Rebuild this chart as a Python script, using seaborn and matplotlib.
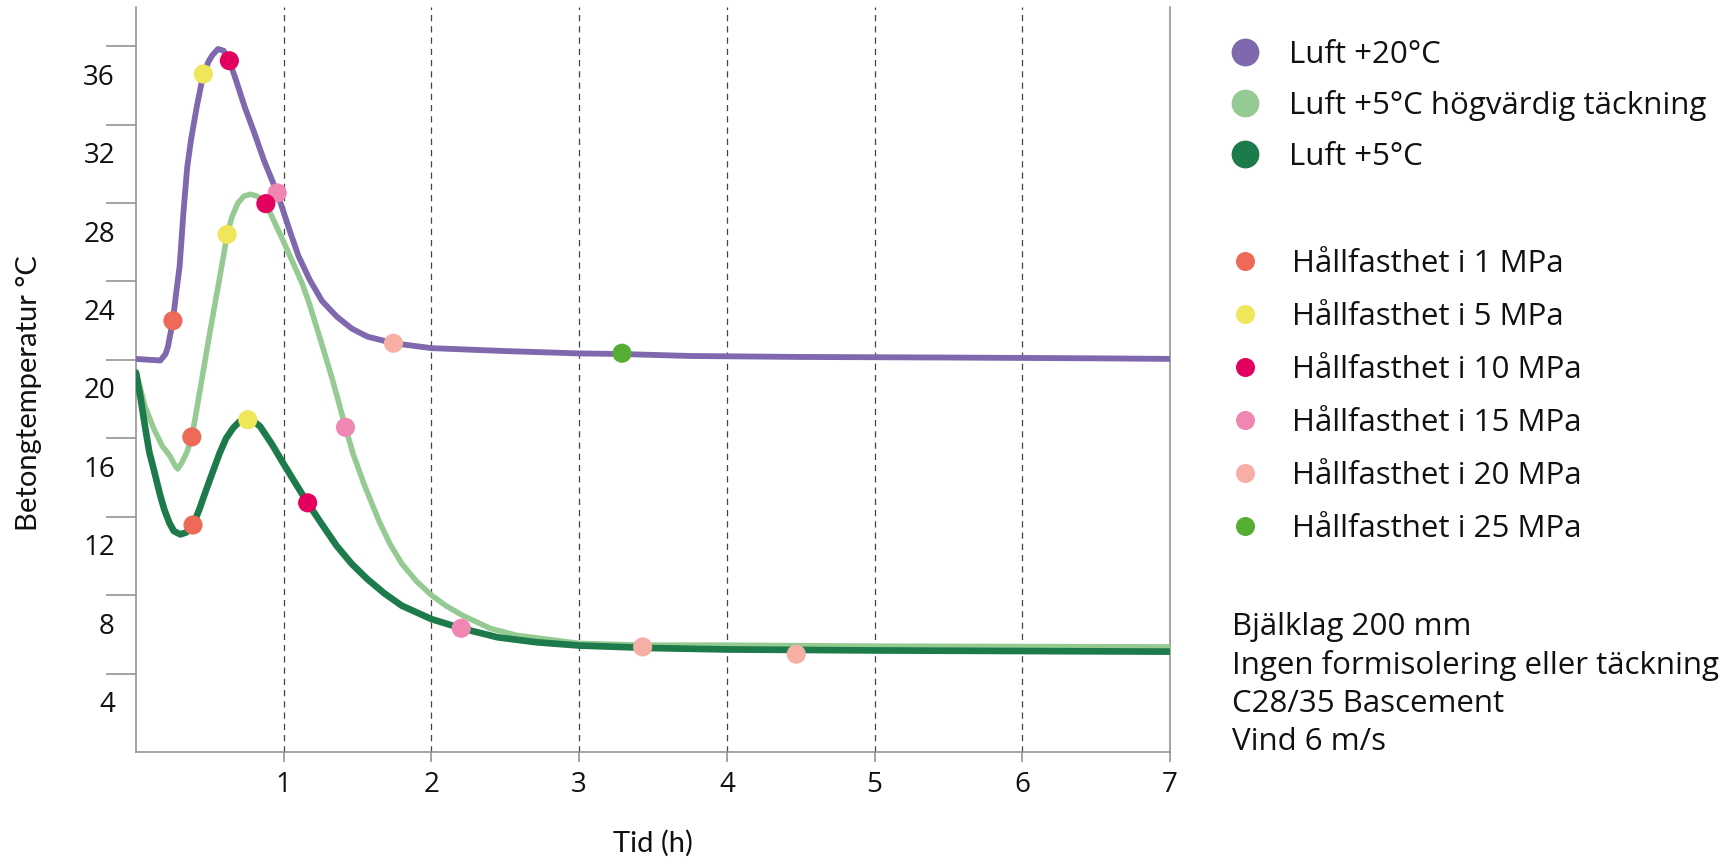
import numpy as np
import pandas as pd
import matplotlib
matplotlib.use("Agg")
import matplotlib.pyplot as plt
import matplotlib.transforms as mtransforms
from matplotlib.lines import Line2D
import seaborn as sns

# Temperature curves (time in hours, concrete temperature in °C)
t_luft20 = [0.00, 0.10, 0.165, 0.20, 0.217, 0.25, 0.27, 0.295, 0.322, 0.347, 0.372, 0.411,
            0.435, 0.456, 0.49, 0.515, 0.555, 0.593, 0.632, 0.68, 0.736, 0.80, 0.866, 0.956,
            1.047, 1.10, 1.177, 1.26, 1.359, 1.46, 1.566, 1.743, 2.0, 2.5, 3.0, 3.29,
            3.75, 4.5, 5.5, 6.5, 7.0]
temp_luft20 = [20.05, 20.0, 19.97, 20.3, 20.7, 22.0, 23.3, 24.75, 27.6, 29.84, 31.2, 32.9,
               33.8, 34.58, 35.2, 35.52, 35.86, 35.77, 35.26, 34.2, 32.9, 31.6, 30.18, 28.52,
               26.45, 25.3, 24.07, 23.0, 22.21, 21.6, 21.19, 20.85, 20.6, 20.45, 20.33, 20.3,
               20.2, 20.15, 20.12, 20.08, 20.05]

t_luft5_tack = [0.0, 0.061, 0.12, 0.178, 0.23, 0.265, 0.282, 0.31, 0.345, 0.378, 0.40,
                0.45, 0.50, 0.55, 0.59, 0.617, 0.65, 0.69, 0.73, 0.775, 0.82, 0.879,
                0.995, 1.06, 1.125, 1.172, 1.25, 1.322, 1.37, 1.418, 1.47, 1.547, 1.644,
                1.72, 1.8, 1.9, 2.0, 2.1, 2.215, 2.4, 2.578, 3.0, 3.43, 4.0, 5.0, 6.0, 7.0]
temp_luft5_tack = [19.4, 17.63, 16.5, 15.6, 15.1, 14.6, 14.44, 14.75, 15.3, 16.07, 17.0,
                   19.2, 21.4, 23.5, 25.2, 26.4, 27.3, 28.0, 28.35, 28.45, 28.35, 27.97,
                   26.1, 25.0, 23.9, 22.9, 21.0, 19.2, 17.9, 16.56, 15.2, 13.6, 11.8,
                   10.6, 9.6, 8.7, 8.0, 7.45, 6.95, 6.3, 5.95, 5.54, 5.45, 5.45, 5.4, 5.38, 5.36]

t_luft5 = [0.0, 0.03, 0.061, 0.09, 0.126, 0.16, 0.191, 0.225, 0.256, 0.30, 0.34, 0.386,
           0.43, 0.476, 0.52, 0.567, 0.61, 0.658, 0.70, 0.757, 0.80, 0.84, 0.92, 0.995,
           1.08, 1.162, 1.26, 1.359, 1.46, 1.566, 1.68, 1.8, 2.0, 2.202, 2.449, 2.708,
           3.0, 3.5, 4.0, 5.0, 6.0, 7.0]
temp_luft5 = [19.35, 18.1, 16.61, 15.3, 14.24, 13.2, 12.38, 11.7, 11.27, 11.1, 11.2, 11.58,
              12.4, 13.39, 14.3, 15.26, 16.0, 16.53, 16.85, 16.95, 16.85, 16.61, 15.7, 14.75,
              13.7, 12.71, 11.6, 10.51, 9.6, 8.82, 8.1, 7.46, 6.78, 6.31, 5.85, 5.6,
              5.43, 5.3, 5.23, 5.18, 5.15, 5.12]

# Strength milestones reached along the curves
strength_labels = ["Hållfasthet i 1 MPa", "Hållfasthet i 5 MPa", "Hållfasthet i 10 MPa",
                   "Hållfasthet i 15 MPa", "Hållfasthet i 20 MPa", "Hållfasthet i 25 MPa"]
dot_time = [0.25, 0.456, 0.632, 0.956, 1.743, 3.29,
            0.378, 0.617, 0.879, 1.418, 3.43,
            0.386, 0.757, 1.162, 2.202, 4.47]
dot_temp = [22.0, 34.58, 35.26, 28.52, 20.85, 20.34,
            16.07, 26.4, 27.97, 16.56, 5.36,
            11.58, 16.95, 12.71, 6.31, 4.99]
dot_strength = [0, 1, 2, 3, 4, 5,
                0, 1, 2, 3, 4,
                0, 1, 2, 3, 4]

series_labels = ["Luft +20°C", "Luft +5°C högvärdig täckning", "Luft +5°C"]
series_colors = ["#7F68AD", "#95CB93", "#1D7A4B"]
strength_colors = ["#EE6A58", "#F0E65A", "#E4005F", "#EF87B2", "#F6AEA5", "#55AD34"]

y_ticks = [4, 8, 12, 16, 20, 24, 28, 32, 36]
x_ticks = [1, 2, 3, 4, 5, 6, 7]

notes = ["Bjälklag 200 mm", "Ingen formisolering eller täckning", "C28/35 Bascement", "Vind 6 m/s"]

sns.set_theme(style="white")
plt.rcParams["font.family"] = ["Lato", "DejaVu Sans"]
body_font = ["Open Sans", "DejaVu Sans"]
axis_grey = "#8C8C8C"
ink = "#111111"

fig = plt.figure(figsize=(17.32, 8.58), dpi=100)
ax = fig.add_axes([136 / 1732, 1 - 752 / 858, (1170 - 136) / 1732, (752 - 7) / 858])

curves = [(t_luft20, temp_luft20, 4.2), (t_luft5_tack, temp_luft5_tack, 4.0), (t_luft5, temp_luft5, 4.8)]
for (tx, ty, lw), col in zip(curves, series_colors):
    sns.lineplot(x=tx, y=ty, ax=ax, color=col, linewidth=lw, sort=False, zorder=3)

dots = pd.DataFrame({"tid": dot_time, "temp": dot_temp,
                     "hall": [strength_labels[i] for i in dot_strength]})
sns.scatterplot(data=dots, x="tid", y="temp", hue="hall", ax=ax,
                palette=dict(zip(strength_labels, strength_colors)),
                s=190, linewidth=0, legend=False, zorder=4)

ax.set_xlim(0, 7)
ax.set_ylim(0, 38)
ax.set_xticks(x_ticks)
ax.set_xticklabels([str(v) for v in x_ticks], family=body_font)
ax.set_yticks(y_ticks)
ax.set_yticklabels([str(v) for v in y_ticks], family=body_font)

for side in ["left", "bottom", "right"]:
    ax.spines[side].set_visible(True)
    ax.spines[side].set_color(axis_grey)
    ax.spines[side].set_linewidth(1.1)
ax.spines["top"].set_visible(False)

ax.tick_params(axis="y", direction="out", length=21.6, width=1.1, color=axis_grey,
               labelsize=20, labelcolor=ink, pad=0, left=True)
ax.tick_params(axis="x", direction="out", length=7, width=1.1, color=axis_grey,
               labelsize=20, labelcolor=ink, pad=7, bottom=True)

# y tick labels sit a little below their tick marks
shift = mtransforms.ScaledTranslation(0.09, -0.28, fig.dpi_scale_trans)
for lab in ax.get_yticklabels():
    lab.set_transform(lab.get_transform() + shift)

ax.grid(axis="x", linestyle=(0, (5, 4)), color="#444444", linewidth=0.9)
ax.grid(axis="y", visible=False)
ax.set_axisbelow(True)
ax.xaxis.get_gridlines()[-1].set_visible(False)

ax.set_ylabel("Betongtemperatur °C", fontsize=21, color=ink)
ax.yaxis.set_label_coords(-0.091, 0.482)
ax.set_xlabel("Tid (h)", fontsize=21, color=ink)
ax.xaxis.set_label_coords(0.5, -0.105)

series_handles = [Line2D([], [], marker="o", linestyle="none", markersize=20,
                         markerfacecolor=c, markeredgewidth=0) for c in series_colors]
leg1 = fig.legend(series_handles, series_labels, loc="upper left",
                  bbox_to_anchor=(1212 / 1732, 1 - 24 / 858), frameon=False,
                  prop={"family": body_font, "size": 22.5}, labelspacing=0.66,
                  handletextpad=0.85, borderpad=0, handlelength=1.1)
strength_handles = [Line2D([], [], marker="o", linestyle="none", markersize=13.7,
                           markerfacecolor=c, markeredgewidth=0) for c in strength_colors]
leg2 = fig.legend(strength_handles, strength_labels, loc="upper left",
                  bbox_to_anchor=(1212 / 1732, 1 - 233 / 858), frameon=False,
                  prop={"family": body_font, "size": 22.5}, labelspacing=0.74,
                  handletextpad=0.95, borderpad=0, handlelength=1.1)
for leg in (leg1, leg2):
    for txt in leg.get_texts():
        txt.set_color(ink)

fig.text(1232 / 1732, 1 - 612 / 858, "\n".join(notes), family=body_font, fontsize=22.5,
         color=ink, va="top", ha="left", linespacing=1.34)

fig.savefig("out.png", dpi=100)
